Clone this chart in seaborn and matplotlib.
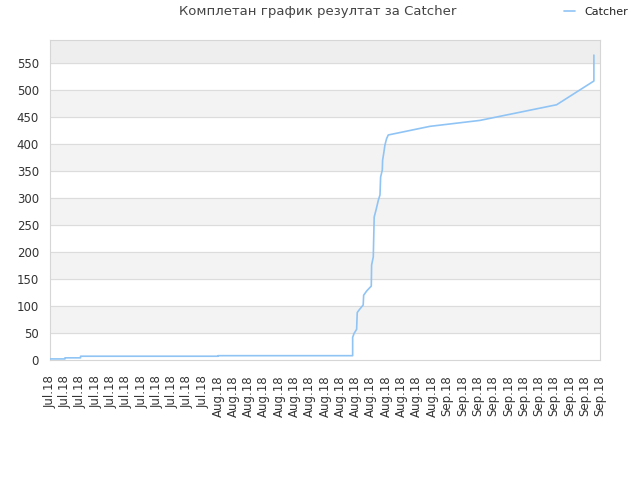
import matplotlib
matplotlib.use("Agg")
import matplotlib.pyplot as plt
import seaborn as sns
import pandas as pd

# tick labels along the x axis (one per tick position)
tick_labels = ["Jul.18"] * 11 + ["Aug.18"] * 15 + ["Sep.18"] * 11

# line points (x in tick units, y = result)
catcher_x = [0, 0.98, 0.98, 2.0, 2.0, 11.0, 11.0, 19.81, 19.81, 19.90, 20.07, 20.11,
             20.24, 20.50, 20.53, 20.73, 21.03, 21.05, 21.16, 21.22, 21.34, 21.49,
             21.60, 21.64, 21.75, 21.77, 21.86, 21.92, 22.03, 22.14, 24.87, 28.14,
             33.16, 35.60, 35.60]
catcher_y = [2, 2, 4, 4, 7, 7, 8, 8, 42, 49, 57, 88,
             93, 102, 120, 128, 137, 176, 191, 265, 278, 296,
             306, 339, 352, 370, 386, 398, 410, 417, 433, 444,
             473, 517, 565]

df = pd.DataFrame({"x": catcher_x, "y": catcher_y})

sns.set_theme(style="white")
plt.rcParams['font.family'] = ['DejaVu Sans']

fig = plt.figure(figsize=(6.4, 4.8), dpi=100)
ax = fig.add_axes([50 / 640, 120 / 480, 550 / 640, 320 / 480])

ymax = 593
# alternating bands
for lo in range(50, 550, 100):
    ax.axhspan(lo, lo + 50, color="#f3f3f3", zorder=0)
ax.axhspan(550, ymax, color="#eeeeee", zorder=0)
for yv in range(50, 600, 50):
    ax.axhline(yv, color="#dcdcdc", lw=0.8, zorder=1)

sns.lineplot(data=df, x="x", y="y", sort=False, estimator=None, ax=ax,
             color="#90c4f5", lw=1.2, label="Catcher", zorder=3)

ax.set_xlim(0, len(tick_labels) - 1)
ax.set_ylim(0, ymax)
ax.set_xticks(range(len(tick_labels)))
ax.set_xticklabels(tick_labels, rotation=90, fontsize=8.5, color="#333333")
ax.set_yticks(range(0, 600, 50))
ax.tick_params(axis="y", labelsize=8.5, labelcolor="#333333", length=0, pad=8)
ax.tick_params(axis="x", length=0, pad=11)
ax.set_xlabel("")
ax.set_ylabel("")
for s in ax.spines.values():
    s.set_color("#d6d6d6")
    s.set_linewidth(0.8)

fig.text(0.497, 0.975, "Комплетан график резултат за Catcher", ha="center", va="center",
         fontsize=9.5, color="#444444")
leg = ax.legend(loc="upper right", bbox_to_anchor=(1.07, 1.135), frameon=False,
                fontsize=8, handlelength=1.0, handletextpad=0.9)
for t in leg.get_texts():
    t.set_color("#222222")

fig.savefig("out.png", dpi=100)
